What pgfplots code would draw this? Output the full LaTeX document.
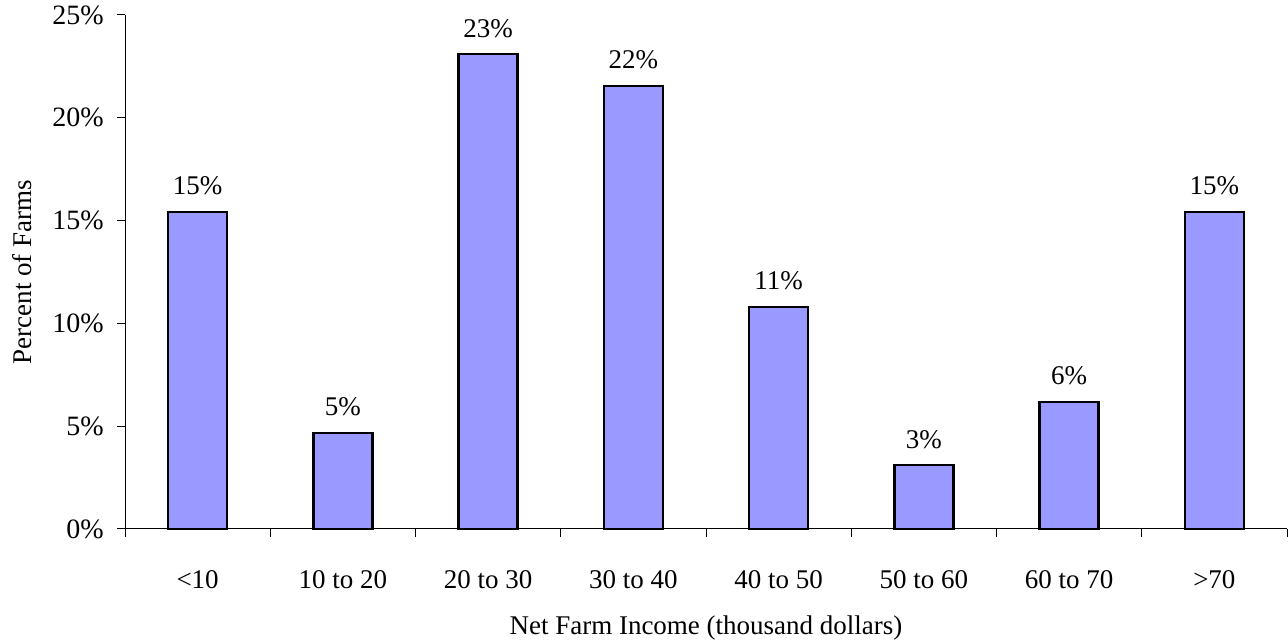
\documentclass[border=0pt]{standalone}
\usepackage{fontspec}
\setmainfont{Liberation Serif}
\usepackage{pgfplots}
\pgfplotsset{compat=1.18}
\definecolor{barblue}{HTML}{9999FF}
\begin{document}
\fontsize{13.5}{16.2}\selectfont
\begin{tikzpicture}
\begin{axis}[
  at={(62.5pt,56pt)}, anchor=south west,
  scale only axis, width=581pt, height=257pt,
  xmin=-0.5, xmax=7.5, ymin=0, ymax=25,
  axis x line=bottom, axis y line=left,
  axis line style={-, black, line width=0.5pt},
  tick align=outside, major tick length=4pt,
  xtick={0,...,7},
  xticklabels={{<10},{10 to 20},{20 to 30},{30 to 40},{40 to 50},{50 to 60},{60 to 70},{>70}},
  major x tick style={draw=none},
  minor xtick={-0.5,0.5,...,7.5},
  minor tick length=4pt,
  minor x tick style={draw=black, line width=0.5pt},
  xticklabel style={anchor=base, yshift=-25.5pt},
  ytick={0,5,...,25},
  yticklabel={\pgfmathprintnumber{\tick}\%},
  yticklabel style={xshift=-2pt, font=\fontsize{14}{16.8}\selectfont},
  ytick style={draw=black, line width=0.5pt},
  /pgf/number format/assume math mode=true,
  xlabel={Net Farm Income (thousand dollars)},
  xlabel style={at={(axis description cs:0.5,-0.192)}, anchor=center},
  ylabel={Percent of Farms},
  ylabel style={at={(axis description cs:-0.0886,0.5)}, anchor=center},
  ybar, bar width=29.5pt, bar shift=0pt,
  nodes near coords={\pgfmathprintnumber[fixed,precision=0]{\pgfplotspointmeta}\%},
  nodes near coords style={anchor=base, yshift=8.5pt, /pgf/number format/assume math mode=true},
  clip=false,
]
\addplot[fill=barblue, draw=black, line width=1.3pt] coordinates {
  (0,15.42) (1,4.67) (2,23.10) (3,21.55) (4,10.80) (5,3.11) (6,6.18) (7,15.42)
};
\end{axis}
\pgfresetboundingbox
\path[use as bounding box] (0,0) rectangle (644pt,320.5pt);
\end{tikzpicture}
\end{document}
